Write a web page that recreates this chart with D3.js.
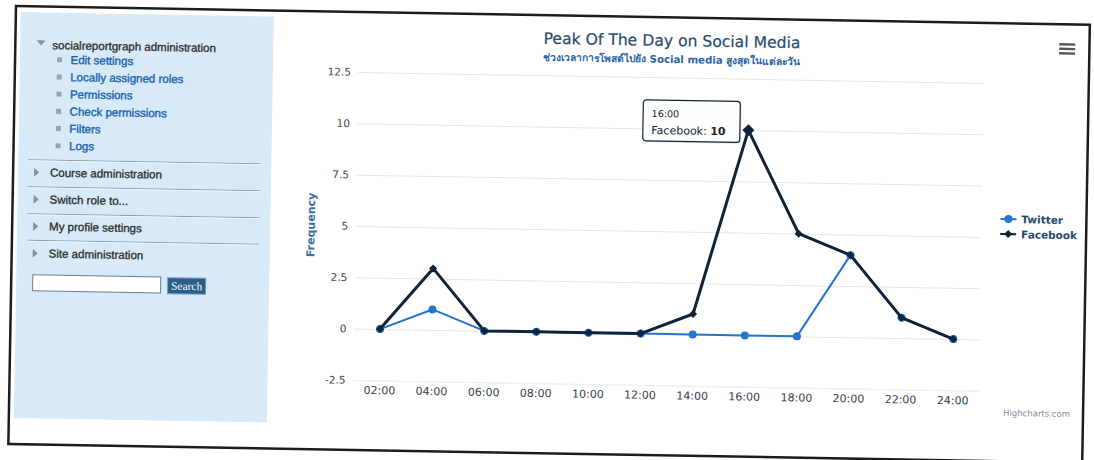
<!DOCTYPE html>
<html>
<head>
<meta charset="utf-8">
<script src="https://cdn.jsdelivr.net/npm/d3@7"></script>
<style>
  html, body { margin: 0; padding: 0; background: #fff; }
  svg { display: block; }
</style>
</head>
<body>
<svg id="page" width="1094" height="460"></svg>
<script>
// ---- data ----
const categories = ["02:00", "04:00", "06:00", "08:00", "10:00", "12:00",
                    "14:00", "16:00", "18:00", "20:00", "22:00", "24:00"];
const twitter  = [0, 1, 0, 0, 0, 0, 0, 0, 0, 4, 1, 0];
const facebook = [0, 3, 0, 0, 0, 0, 1, 10, 5, 4, 1, 0];
const yTicks = [-2.5, 0, 2.5, 5, 7.5, 10, 12.5];
const seriesNames = ["Twitter", "Facebook"];
const seriesColors = ["#2574cf", "#0d233a"];
const seriesSymbols = ["circle", "diamond"];
const titleText = "Peak Of The Day on Social Media";
const subtitleText = "ช่วงเวลาการโพสต์ไปยัง Social media สูงสุดในแต่ละวัน";
const yAxisTitle = "Frequency";
const creditsText = "Highcharts.com";
const hoverIndex = 7;          // tooltip shown for Facebook at 16:00
const blockTitle = "socialreportgraph administration";
const adminLinks = ["Edit settings", "Locally assigned roles", "Permissions",
                    "Check permissions", "Filters", "Logs"];
const blockSections = ["Course administration", "Switch role to...",
                       "My profile settings", "Site administration"];

// ---- page sheet (slightly turned) ----
const svg = d3.select("#page");
const sheet = svg.append("g").attr("transform", "translate(16,6) rotate(1)");
const W = 1074, H = 438;

sheet.append("rect").attr("width", W).attr("height", H).attr("fill", "#fff");

// ---- Moodle settings block ----
const side = sheet.append("g");
const sideFont = "'Liberation Sans', Arial, sans-serif";
side.append("rect").attr("x", 5).attr("y", 6).attr("width", 253).attr("height", 406)
  .attr("fill", "#d8eaf8");

// expanded header
side.append("path").attr("d", "M21.5,34 L30,34 L25.75,39 Z").attr("fill", "#8a8f96");
side.append("text").attr("x", 37).attr("y", 42.5)
  .attr("font-family", sideFont).attr("font-size", 11.5).attr("fill", "#2b2b2b")
  .attr("stroke", "#2b2b2b").attr("stroke-width", 0.3)
  .text(blockTitle);

const linkStep = 17.2;
adminLinks.forEach((t, i) => {
  const cy = 53 + i * linkStep;
  side.append("rect").attr("x", 42).attr("y", cy - 2.5).attr("width", 5).attr("height", 5)
    .attr("fill", "#9ea3a8");
  side.append("text").attr("x", 55.5).attr("y", cy + 4)
    .attr("font-family", sideFont).attr("font-size", 11.5).attr("fill", "#1561ae")
    .attr("stroke", "#1561ae").attr("stroke-width", 0.35)
    .text(t);
});

const sepY = [153.5, 180.5, 207.5, 234];
sepY.forEach(y => {
  side.append("line").attr("x1", 15).attr("x2", 247).attr("y1", y).attr("y2", y)
    .attr("stroke", "#8f9aa3").attr("stroke-width", 1);
  side.append("line").attr("x1", 15).attr("x2", 247).attr("y1", y + 1).attr("y2", y + 1)
    .attr("stroke", "#eef6fc").attr("stroke-width", 1);
});
blockSections.forEach((t, i) => {
  const cy = 166 + i * 27;
  side.append("path").attr("d", `M21,${cy - 4.5} L26,${cy} L21,${cy + 4.5} Z`).attr("fill", "#8a8f96");
  side.append("text").attr("x", 37).attr("y", cy + 4)
    .attr("font-family", sideFont).attr("font-size", 11.5).attr("fill", "#2b2b2b")
    .attr("stroke", "#2b2b2b").attr("stroke-width", 0.3)
    .text(t);
});

// search form
side.append("rect").attr("x", 21.5).attr("y", 268.5).attr("width", 128).attr("height", 16)
  .attr("fill", "#fff").attr("stroke", "#6d7d8c").attr("stroke-width", 1);
side.append("rect").attr("x", 156.5).attr("y", 269).attr("width", 38).attr("height", 16)
  .attr("fill", "#2a5d8a").attr("stroke", "#7a9cbc").attr("stroke-width", 1);
side.append("text").attr("x", 175.5).attr("y", 281)
  .attr("text-anchor", "middle")
  .attr("font-family", "'Liberation Serif', 'DejaVu Serif', serif").attr("font-size", 11.5)
  .attr("fill", "#fff").text("Search");

// ---- chart ----
const chartFont = "'DejaVu Sans', Verdana, sans-serif";
const plot = { left: 343.5, right: 969, top: 60, bottom: 368 };

const x = d3.scalePoint().domain(categories)
  .range([plot.left, plot.right]).padding(0.5);
const y = d3.scaleLinear().domain([-2.5, 12.5]).range([plot.bottom, plot.top]);

const chart = sheet.append("g");

// title & subtitle
chart.append("text").attr("x", 656.5).attr("y", 28.5).attr("text-anchor", "middle")
  .attr("font-family", chartFont).attr("font-size", 15.6).attr("fill", "#274b6d")
  .attr("stroke", "#274b6d").attr("stroke-width", 0.2)
  .text(titleText);
chart.append("text").attr("x", 656.5).attr("y", 45.5).attr("text-anchor", "middle")
  .attr("font-family", chartFont).attr("font-size", 10.2).attr("font-weight", "bold")
  .attr("fill", "#2a63a6")
  .text(subtitleText);

// grid lines
const grid = chart.append("g").attr("transform", `translate(${plot.left},0)`)
  .call(d3.axisLeft(y).tickValues(yTicks).tickSize(-(plot.right - plot.left)).tickFormat(""));
grid.select(".domain").remove();
grid.selectAll(".tick line").attr("stroke", "#e6e6e6").attr("stroke-width", 1);

// y axis labels
const yAxis = chart.append("g").attr("transform", `translate(${plot.left},0)`)
  .call(d3.axisLeft(y).tickValues(yTicks).tickSize(0).tickPadding(7.5)
        .tickFormat(d => String(d)));
yAxis.select(".domain").remove();
yAxis.selectAll("text").attr("font-family", chartFont).attr("font-size", 10.5)
  .attr("fill", "#3f454c");

// x axis labels
const xAxis = chart.append("g").attr("transform", `translate(0,${plot.bottom})`)
  .call(d3.axisBottom(x).tickSize(0).tickPadding(6));
xAxis.select(".domain").attr("stroke", "#eef2f6");
xAxis.selectAll("text").attr("font-family", chartFont).attr("font-size", 11)
  .attr("fill", "#333d47");

// y axis title
chart.append("text")
  .attr("transform", `translate(302.5,213.8) rotate(-90)`)
  .attr("text-anchor", "middle")
  .attr("font-family", chartFont).attr("font-size", 11).attr("font-weight", "bold")
  .attr("fill", "#3a6ea6")
  .text(yAxisTitle);

// marker shapes (radius r)
const markerPath = (sym, r) => sym === "diamond"
  ? `M0,${-r}L${r},0L0,${r}L${-r},0Z`
  : d3.symbol(d3.symbolCircle, Math.PI * r * r)();

// series
const seriesData = [twitter, facebook];
const line = d3.line().x((d, i) => x(categories[i])).y(d => y(d));

seriesData.forEach((vals, s) => {
  const g = chart.append("g");
  g.append("path").datum(vals).attr("d", line)
    .attr("fill", "none").attr("stroke", seriesColors[s])
    .attr("stroke-width", s === 1 ? 3 : 2)
    .attr("stroke-linejoin", "round").attr("stroke-linecap", "round");
  g.selectAll("path.marker").data(vals).enter().append("path")
    .attr("class", "marker")
    .attr("transform", (d, i) => `translate(${x(categories[i])},${y(d)})`)
    .attr("d", (d, i) => markerPath(seriesSymbols[s], s === 1 && i === hoverIndex ? 6 : 4))
    .attr("fill", seriesColors[s]);
});

// legend
const legend = chart.append("g");
seriesNames.forEach((name, s) => {
  const cy = 195.7 + s * 15;
  legend.append("line").attr("x1", 988).attr("x2", 1004).attr("y1", cy).attr("y2", cy)
    .attr("stroke", seriesColors[s]).attr("stroke-width", 2);
  legend.append("path").attr("transform", `translate(996,${cy})`)
    .attr("d", markerPath(seriesSymbols[s], 4))
    .attr("fill", seriesColors[s]);
  legend.append("text").attr("x", 1009).attr("y", cy + 4)
    .attr("font-family", chartFont).attr("font-size", 10.5).attr("font-weight", "bold")
    .attr("fill", "#274b6d").text(name);
});

// export menu button
const menu = chart.append("g").attr("transform", "translate(1051.8,24.6)");
[-4.5, 0, 4.5].forEach(dy => {
  menu.append("line").attr("x1", -8).attr("x2", 8).attr("y1", dy).attr("y2", dy)
    .attr("stroke", "#555").attr("stroke-width", 2.4);
});

// credits
chart.append("text").attr("x", 1061).attr("y", 392.5).attr("text-anchor", "end")
  .attr("font-family", chartFont).attr("font-size", 8.5).attr("fill", "#7d8b9a")
  .text(creditsText);

// tooltip for the hovered point
const hx = x(categories[hoverIndex]), hy = y(facebook[hoverIndex]);
const tip = chart.append("g").attr("transform", `translate(${hx - 106},${hy - 29})`);
tip.append("rect").attr("x", 2).attr("y", 2).attr("width", 97).attr("height", 41)
  .attr("rx", 3).attr("fill", "rgba(0,0,0,0.08)");
tip.append("rect").attr("x", 0.5).attr("y", 0.5).attr("width", 97).attr("height", 41)
  .attr("rx", 3).attr("fill", "rgba(255,255,255,0.92)")
  .attr("stroke", seriesColors[1]).attr("stroke-width", 1.2);
tip.append("text").attr("x", 9).attr("y", 17.5)
  .attr("font-family", chartFont).attr("font-size", 9.5).attr("fill", "#222")
  .text(categories[hoverIndex]);
const tipLine = tip.append("text").attr("x", 9).attr("y", 34.5)
  .attr("font-family", chartFont).attr("font-size", 11).attr("fill", "#222");
tipLine.append("tspan").attr("fill", seriesColors[1]).text(seriesNames[1]);
tipLine.append("tspan").text(": ");
tipLine.append("tspan").attr("font-weight", "bold").text(String(facebook[hoverIndex]));

// frame around the screenshot
sheet.append("rect").attr("x", 0).attr("y", 0).attr("width", W).attr("height", H)
  .attr("fill", "none").attr("stroke", "#1c1c1c").attr("stroke-width", 2.5);
</script>
</body>
</html>
